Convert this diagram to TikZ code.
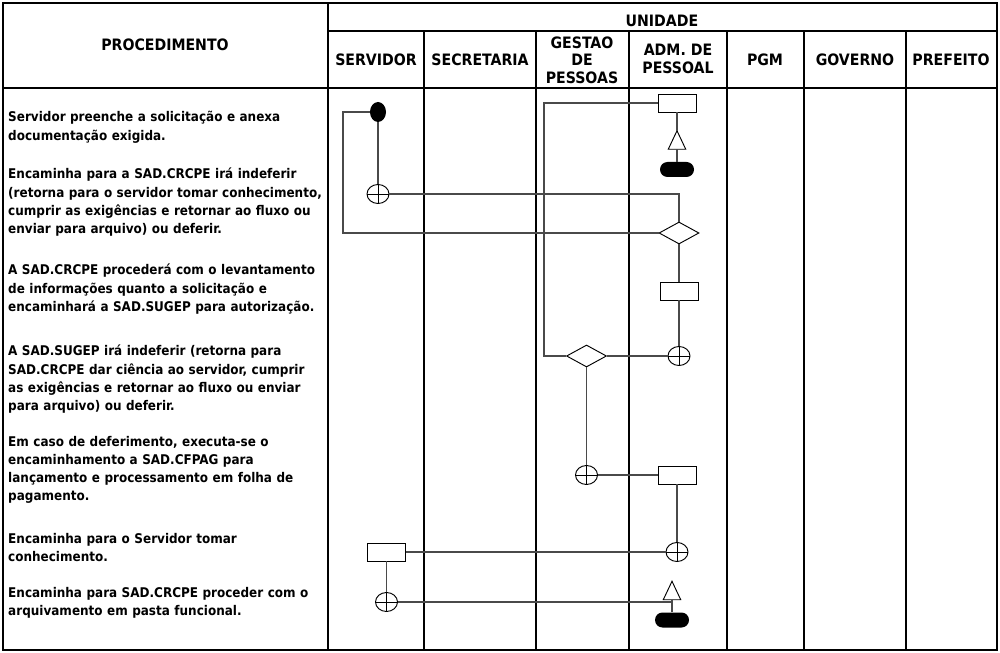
\documentclass[tikz,border=0pt]{standalone}
\usepackage{fontspec}
\setmainfont{DejaVu Sans Condensed}
\usetikzlibrary{shapes.geometric,shapes.misc}
\definecolor{flowGray}{HTML}{4A4A4A}
\tikzset{
  every picture/.append style={font=\bfseries\fontsize{11.4}{15.4}\selectfont},
  grid/.style={draw=black,line width=1.5pt},
  flow/.style={draw=flowGray,line width=0.9pt},
  symbol/.style={draw=black,line width=0.8pt},
  head/.style={align=center,inner sep=0pt,font=\bfseries\fontsize{13.4}{15}\selectfont},
  proc/.style={anchor=base west,text width=10cm,align=left,inner sep=0pt},
  startpt/.style={ellipse,fill=black,inner sep=0pt,minimum width=0.48cm,minimum height=0.6cm},
  junction/.style={ellipse,symbol,inner sep=0pt,minimum width=0.66cm,minimum height=0.57cm,
    path picture={\draw[line width=0.8pt] (path picture bounding box.north) -- (path picture bounding box.south)
      (path picture bounding box.west) -- (path picture bounding box.east);}},
  decision/.style={diamond,symbol,inner sep=0pt,minimum width=1.2cm,minimum height=0.66cm},
  task/.style={rectangle,symbol,inner sep=0pt,minimum width=1.14cm,minimum height=0.54cm},
  archive/.style={rectangle,inner sep=0pt,minimum width=0.51cm,minimum height=0.54cm},
  terminal/.style={rounded rectangle,fill=black,inner sep=0pt,minimum width=1.02cm,minimum height=0.45cm},
}

\begin{document}
\begin{tikzpicture}[x=0.03cm,y=-0.03cm]
  \useasboundingbox (0,0) rectangle (1000,653);

  \draw[grid] (3,3) rectangle (997,650);
  \draw[grid] (328,3) -- (328,650);
  \draw[grid] (328,31) -- (997,31);
  \draw[grid] (3,88) -- (997,88);
  \foreach \x in {424,536,629,727,804,906}
    \draw[grid] (\x,31) -- (\x,650);

  \node[head] (hproc) at (165,45) {PROCEDIMENTO};
  \node[head] (hunid) at (662,21) {UNIDADE};
  \node[head] (hserv) at (376,60) {SERVIDOR};
  \node[head] (hsecr) at (480,60) {SECRETARIA};
  \node[head] (hgest) at (582,60) {GESTAO\\DE\\PESSOAS};
  \node[head] (hadm)  at (678,59) {ADM. DE\\PESSOAL};
  \node[head] (hpgm)  at (765,60) {PGM};
  \node[head] (hgov)  at (855,60) {GOVERNO};
  \node[head] (hpref) at (951,60) {PREFEITO};

  \node[proc] (s1) at (8,122) {Servidor preenche a solicitação e anexa\\documentação exigida.};
  \node[proc] (s2) at (8,179) {Encaminha para a SAD.CRCPE irá indeferir\\(retorna para o servidor tomar conhecimento,\\cumprir as exigências e retornar ao fluxo ou\\enviar para arquivo) ou deferir.};
  \node[proc] (s3) at (8,275) {A SAD.CRCPE procederá com o levantamento\\de informações quanto a solicitação e\\encaminhará a SAD.SUGEP para autorização.};
  \node[proc] (s4) at (8,356) {A SAD.SUGEP irá indeferir (retorna para\\SAD.CRCPE dar ciência ao servidor, cumprir\\as exigências e retornar ao fluxo ou enviar\\para arquivo) ou deferir.};
  \node[proc] (s5) at (8,446) {Em caso de deferimento, executa-se o\\encaminhamento a SAD.CFPAG para\\lançamento e processamento em folha de\\pagamento.};
  \node[proc] (s6) at (8,543) {Encaminha para o Servidor tomar\\conhecimento.};
  \node[proc] (s7) at (8,597) {Encaminha para SAD.CRCPE proceder com o\\arquivamento em pasta funcional.};

  \node[startpt]  (start) at (378,112) {};
  \node[junction] (c1) at (378,194) {};
  \node[decision] (d1) at (679,233) {};
  \node[task]     (r1) at (677,103) {};
  \node[archive]  (t1) at (677,140) {};
  \node[terminal] (e1) at (677,169.5) {};
  \node[task]     (r2) at (679,291) {};
  \node[junction] (c2) at (679,356) {};
  \node[decision] (d2) at (586.5,356) {};
  \node[junction] (c3) at (586.5,475) {};
  \node[task]     (r3) at (677,475) {};
  \node[junction] (c4) at (677,552) {};
  \node[task]     (r4) at (386.5,552) {};
  \node[junction] (c5) at (386.5,602) {};
  \node[archive]  (t2) at (672,590.5) {};
  \node[terminal] (e2) at (672,620) {};
  \foreach \t in {t1,t2}
    \draw[symbol] (\t.north) -- (\t.south west) -- (\t.south east) -- cycle;

  \coordinate (k1) at (343,112);
  \coordinate (k2) at (544,103);

  \draw[flow] (start.west) -- (k1) |- (d1.west);
  \draw[flow] (start.south) -- (c1.north);
  \draw[flow] (c1.east) -| (d1.north);
  \draw[flow] (r1.west) -- (k2) |- (d2.west);
  \draw[flow] (r1.south) -- (t1.north);
  \draw[flow] (t1.south) -- (e1.north);
  \draw[flow] (d1.south) -- (r2.north);
  \draw[flow] (r2.south) -- (c2.north);
  \draw[flow] (d2.east) -- (c2.west);
  \draw[flow] (d2.south) -- (c3.north);
  \draw[flow] (c3.east) -- (r3.west);
  \draw[flow] (r3.south) -- (c4.north);
  \draw[flow] (c4.west) -- (r4.east);
  \draw[flow] (r4.south) -- (c5.north);
  \draw[flow] (c5.east) -- (c5.east -| t2.south);
  \draw[flow] (t2.south) -- (e2.north);
\end{tikzpicture}
\end{document}
